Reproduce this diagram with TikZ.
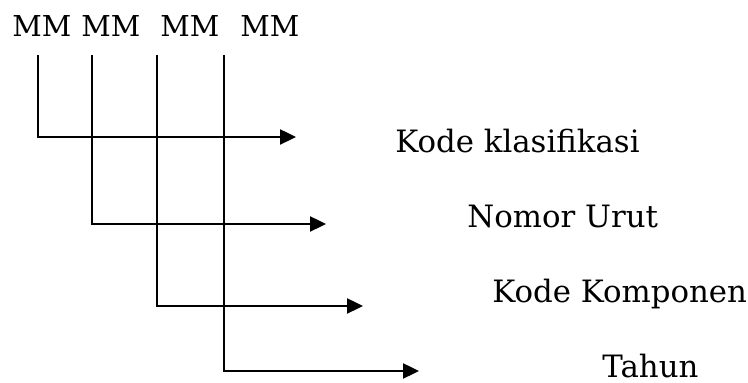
\documentclass[tikz,border=0pt]{standalone}
\usepackage{fontspec}
\setmainfont{DejaVu Serif}
\usetikzlibrary{arrows.meta}
\tikzset{
    code/.style={anchor=base west, inner sep=0pt, font=\fontsize{14.4}{17}\selectfont},
    part/.style={anchor=base west, inner sep=0pt, font=\fontsize{15.4}{18}\selectfont},
    link/.style={line width=1.2pt, -{Triangle[length=8pt,width=7.5pt]}}
}
\begin{document}
\begin{tikzpicture}[x=0.5pt,y=-0.5pt]
    \useasboundingbox (0,0) rectangle (748,383);
    \node[code] (mm1) at (12,37) {MM};
    \node[code] (mm2) at (81,37) {MM};
    \node[code] (mm3) at (160,37) {MM};
    \node[code] (mm4) at (240,37) {MM};
    \coordinate (top1) at (38,55);
    \coordinate (top2) at (92,55);
    \coordinate (top3) at (157,55);
    \coordinate (top4) at (224,55);
    \coordinate (end1) at (296,137);
    \coordinate (end2) at (326,224);
    \coordinate (end3) at (363,306);
    \coordinate (end4) at (419,371);
    \node[part] (klas) at (395,153) {Kode klasifikasi};
    \node[part] (urut) at (467,228) {Nomor Urut};
    \node[part] (komp) at (492,303) {Kode Komponen};
    \node[part] (thn) at (602,378) {Tahun};
    \draw[link] (top1) |- (end1);
    \draw[link] (top2) |- (end2);
    \draw[link] (top3) |- (end3);
    \draw[link] (top4) |- (end4);
\end{tikzpicture}
\end{document}
